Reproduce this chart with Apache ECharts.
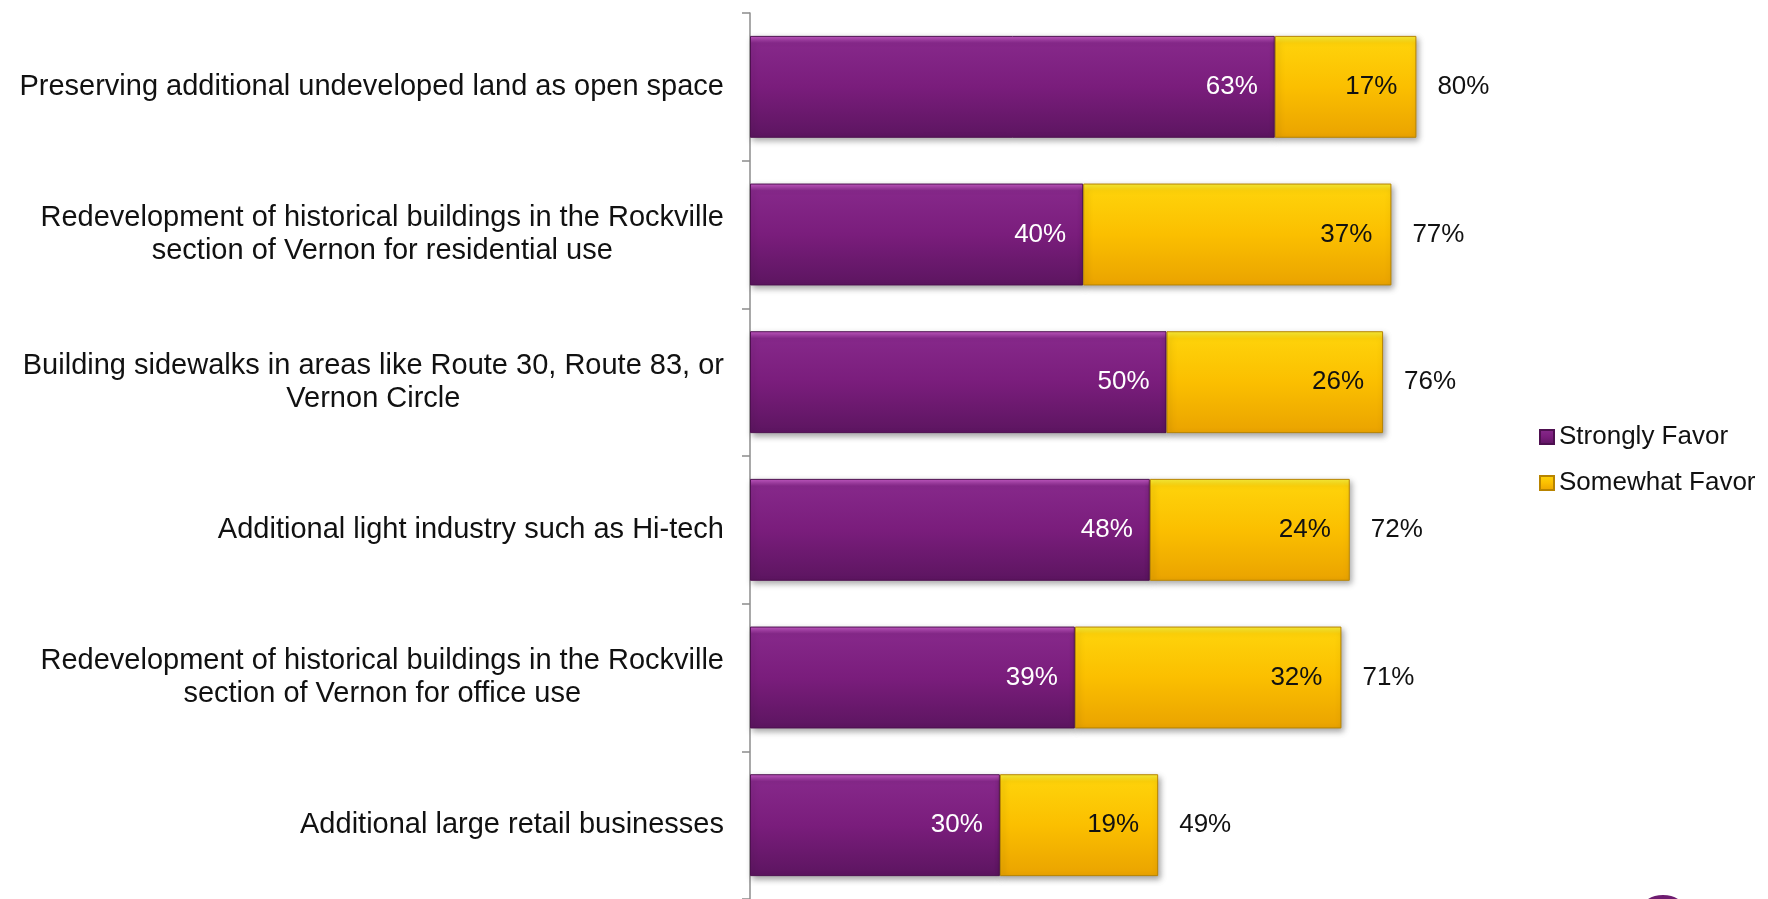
<!DOCTYPE html>
<html>
<head>
<meta charset="utf-8">
<title>Support for development proposals</title>
<script src="https://cdn.jsdelivr.net/npm/echarts@6/dist/echarts.min.js"></script>
<style>
  html, body { margin: 0; padding: 0; background: #ffffff; }
  #chart { width: 1768px; height: 899px; }
</style>
</head>
<body>
<div id="chart"></div>
<script>
// Proposals, listed top to bottom
const categories = [
  'Preserving additional undeveloped land as open space',
  'Redevelopment of historical buildings in the Rockville\nsection of Vernon for residential use',
  'Building sidewalks in areas like Route 30, Route 83, or\nVernon Circle',
  'Additional light industry such as Hi-tech',
  'Redevelopment of historical buildings in the Rockville\nsection of Vernon for office use',
  'Additional large retail businesses'
];

// Percent of respondents
const stronglyFavor = [63, 40, 50, 48, 39, 30];
const somewhatFavor = [17, 37, 26, 24, 32, 19];
const totalFavor = stronglyFavor.map((v, i) => v + somewhatFavor[i]);

const FONT = '"Liberation Sans", Arial, sans-serif';

const purpleFill = new echarts.graphic.LinearGradient(0, 0, 0, 1, [
  { offset: 0, color: '#c45ac4' },
  { offset: 0.07, color: '#86288a' },
  { offset: 0.5, color: '#7a1d7c' },
  { offset: 1, color: '#5c1560' }
]);
const yellowFill = new echarts.graphic.LinearGradient(0, 0, 0, 1, [
  { offset: 0, color: '#f9ef3a' },
  { offset: 0.07, color: '#fed20a' },
  { offset: 0.5, color: '#fbbf00' },
  { offset: 1, color: '#eaa300' }
]);

const chart = echarts.init(document.getElementById('chart'), null, { renderer: 'canvas' });

chart.setOption({
  backgroundColor: '#ffffff',
  animation: false,
  textStyle: { fontFamily: FONT },
  grid: { left: 750, right: 185, top: 13, bottom: -2, containLabel: false },
  legend: {
    orient: 'vertical',
    left: 1534,
    top: 417,
    itemWidth: 14,
    itemHeight: 14,
    itemGap: 16,
    icon: 'rect',
    data: ['Strongly Favor', 'Somewhat Favor'],
    textStyle: { fontFamily: FONT, fontSize: 26, color: '#111', lineHeight: 30 }
  },
  xAxis: {
    type: 'value',
    min: 0,
    max: 100,
    show: false
  },
  yAxis: {
    type: 'category',
    inverse: true,
    data: categories,
    axisLine: { show: true, lineStyle: { color: '#8c8c8c', width: 1.5 } },
    axisTick: { show: true, length: 8, lineStyle: { color: '#8c8c8c', width: 1.5 } },
    axisLabel: {
      margin: 26,
      fontFamily: FONT,
      fontSize: 29,
      color: '#111',
      lineHeight: 33,
      formatter: (v) => v.split('\n').map(s => '{c|' + s + '}').join('\n'),
      rich: {
        c: { align: 'center', fontFamily: FONT, fontSize: 29, color: '#111', lineHeight: 33 }
      }
    },
    splitLine: { show: false }
  },
  series: [
    {
      name: 'Total',
      type: 'bar',
      data: totalFavor,
      barCategoryGap: '31%',
      barGap: '-100%',
      z: 1,
      silent: true,
      itemStyle: { color: 'rgba(0,0,0,0)' },
      label: {
        show: true,
        position: 'right',
        distance: 21,
        fontFamily: FONT,
        fontSize: 26,
        color: '#111',
        formatter: (p) => p.value + '%'
      }
    },
    {
      name: 'Strongly Favor',
      type: 'bar',
      stack: 'favor',
      data: stronglyFavor,
      barCategoryGap: '31%',
      barGap: '-100%',
      z: 3,
      itemStyle: {
        color: purpleFill,
        borderColor: '#4e1050',
        borderWidth: 1,
        shadowColor: 'rgba(0,0,0,0.35)',
        shadowBlur: 6,
        shadowOffsetX: 2,
        shadowOffsetY: 3
      },
      label: {
        show: true,
        position: 'insideRight',
        distance: 17,
        fontFamily: FONT,
        fontSize: 26,
        color: '#ffffff',
        formatter: (p) => p.value + '%'
      }
    },
    {
      name: 'Somewhat Favor',
      type: 'bar',
      stack: 'favor',
      data: somewhatFavor,
      barCategoryGap: '31%',
      z: 3,
      itemStyle: {
        color: yellowFill,
        borderColor: '#b88400',
        borderWidth: 1,
        shadowColor: 'rgba(0,0,0,0.35)',
        shadowBlur: 6,
        shadowOffsetX: 2,
        shadowOffsetY: 3
      },
      label: {
        show: true,
        position: 'insideRight',
        distance: 19,
        fontFamily: FONT,
        fontSize: 26,
        color: '#111',
        formatter: (p) => p.value + '%'
      }
    }
  ],
  graphic: [
    {
      type: 'ellipse',
      shape: { cx: 1663, cy: 910, rx: 22, ry: 15 },
      style: { fill: '#6e1c70' },
      silent: true
    }
  ]
});
</script>
</body>
</html>
